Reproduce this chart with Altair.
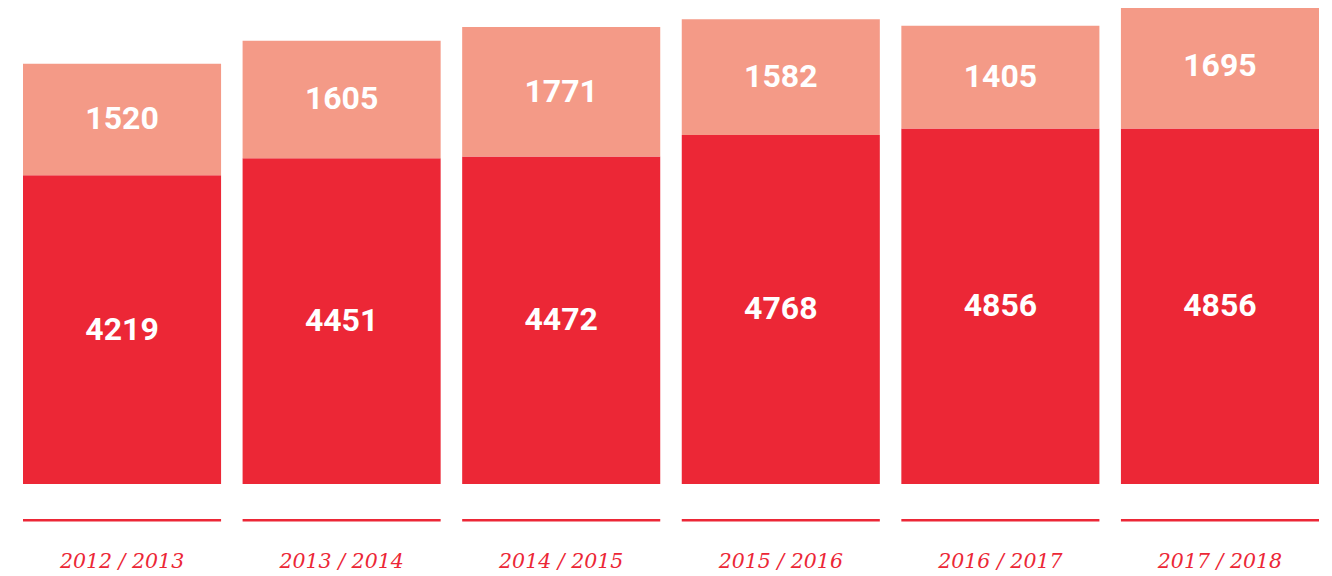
import altair as alt
import pandas as pd

# ---- data ----
seasons = ["2012 / 2013", "2013 / 2014", "2014 / 2015", "2015 / 2016", "2016 / 2017", "2017 / 2018"]
bottom_values = [4219, 4451, 4472, 4768, 4856, 4856]
top_values = [1520, 1605, 1771, 1582, 1405, 1695]
series_names = ["bottom", "top"]

RED = "#EC2736"
SALMON = "#F49A87"

rows = []
for s, b, t in zip(seasons, bottom_values, top_values):
    rows.append({"season": s, "series": series_names[0], "order": 0, "value": b})
    rows.append({"season": s, "series": series_names[1], "order": 1, "value": t})
df = pd.DataFrame(rows)
df_seasons = pd.DataFrame({"season": seasons})

x = alt.X("season:N", sort=seasons, axis=None,
          scale=alt.Scale(paddingInner=0.098, paddingOuter=0.0228))
yscale = alt.Scale(domain=[0, 6502], nice=False, zero=True)

base = alt.Chart(df).transform_stack(
    stack="value", groupby=["season"], as_=["y0", "y1"],
    sort=[alt.SortField("order", order="ascending")]
).transform_calculate(mid="(datum.y0 + datum.y1) / 2")

bars = base.mark_bar().encode(
    x=x,
    y=alt.Y("y0:Q", scale=yscale, axis=None),
    y2="y1:Q",
    color=alt.Color("series:N", scale=alt.Scale(domain=series_names, range=[RED, SALMON]), legend=None),
)

values = base.mark_text(font="Roboto", fontWeight="bold", fontSize=32, color="white",
                        baseline="middle", align="center").encode(
    x=x,
    y=alt.Y("mid:Q", scale=yscale, axis=None),
    text=alt.Text("value:Q", format="d"),
)

underlines = alt.Chart(df_seasons).mark_bar(color=RED).encode(
    x=x, y=alt.value(511), y2=alt.value(513.5)
)

years = alt.Chart(df_seasons).mark_text(font="DejaVu Serif", fontStyle="italic", fontSize=20.5,
                                        color=RED, baseline="alphabetic", align="center").encode(
    x=x, y=alt.value(560), text="season:N"
)

chart = alt.layer(bars, values, underlines, years).properties(
    width=1306, height=476,
    padding={"left": 10, "top": 0, "right": 0, "bottom": 88},
    autosize=alt.AutoSizeParams(type="none"),
).configure_view(stroke=None)

chart.save("out.html", embed_options={"renderer": "svg", "actions": False})
